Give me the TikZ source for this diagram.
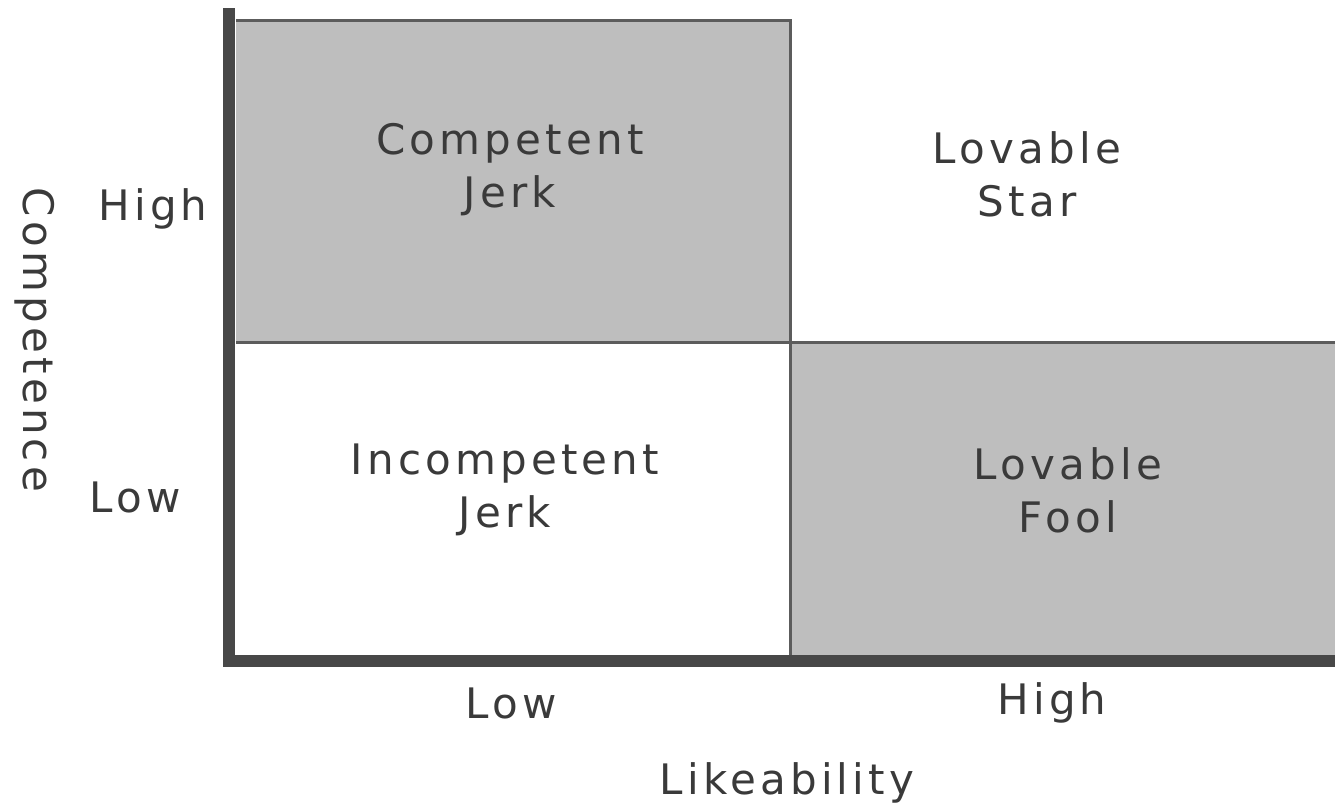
\documentclass[tikz,border=0pt]{standalone}
\usepackage{fontspec}
\setmainfont[LetterSpace=10]{DejaVu Sans}
\definecolor{boxgray}{RGB}{190,190,190}
\definecolor{axisgray}{RGB}{72,72,72}
\definecolor{linegray}{RGB}{92,92,92}
\definecolor{textgray}{RGB}{58,58,58}
\begin{document}
\begin{tikzpicture}[x=0.5pt,y=-0.5pt,every node/.style={text=textgray,font=\fontsize{21}{26.5}\selectfont,align=center,inner sep=0pt}]
				\useasboundingbox (0,0) rectangle (1335,810);
				\fill[boxgray] (236,20) rectangle (790,342);
				\fill[boxgray] (790,342) rectangle (1335,658);
				\draw[linegray,line width=1.5pt] (236,20) -- (790,20) -- (790,658);
				\draw[linegray,line width=1.5pt] (236,342) -- (1335,342);
				\draw[axisgray,line width=6pt] (229,8) -- (229,661) -- (1335,661);
				\node (cjerk) at (510,170)
					{Competent\\Jerk};
				\node (lstar) at (1027,174)
					{Lovable\\Star};
				\node (ijerk) at (505,490)
					{Incompetent\\Jerk};
				\node (lfool) at (1068,490)
					{Lovable\\Fool};
				\node (chigh) at (153,209)
					{High};
				\node (clow) at (135,497)
					{Low};
				\node (llow) at (511,703)
					{Low};
				\node (lhigh) at (1052,703)
					{High};
				\node (likeab) at (787,783)
					{Likeability};
				\node[rotate=-90] (compet) at (35,340)
					{Competence};
			\end{tikzpicture}
\end{document}
